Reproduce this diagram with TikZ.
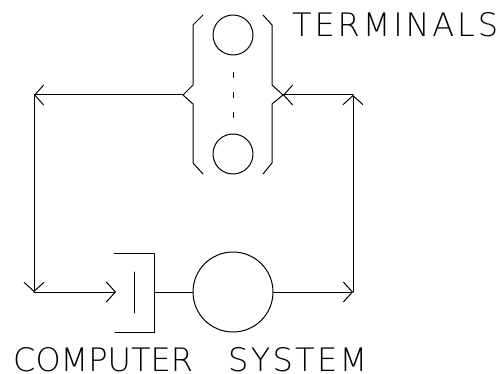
\documentclass[tikz,border=0pt]{standalone}
\usepackage{fontspec}
\newfontfamily\thinf{DejaVu Sans ExtraLight}
\usetikzlibrary{arrows.meta}
\newcommand{\spreadtxt}[2]{\makebox[#1][s]{#2}}
\begin{document}
\begin{tikzpicture}[x=1pt,y=-1pt,
  ln/.style={line width=1pt,line cap=round,line join=round},
  arr/.style={ln,-{Straight Barb[length=9pt,width=20pt,line width=1pt]}},
  circ/.style={circle,draw,line width=1pt,inner sep=0pt,minimum size=#1},
  lbl/.style={inner sep=0pt,anchor=north west,font=\thinf\fontsize{32}{32}\selectfont}]
\useasboundingbox[fill=white] (0,0) rectangle (503,374);
% terminals
\node[circ=40pt] (t1) at (233,35) {};
\node[circ=40pt] (t2) at (233,154) {};
\foreach \yy in {75,95,115} \draw[ln] (233,\yy-2.5) -- (233,\yy+2.5);
% braces
\coordinate (bl) at (183,95);
\coordinate (br) at (283,95);
\draw[ln] (203,15) -- (193,25) -- (193,85) -- (bl) -- (193,104) -- (193,163) -- (203,174);
\draw[ln] (263,15) -- (272,25) -- (272,85) -- (br) -- (272,104) -- (272,163) -- (263,174);
% computer system
\node[circ=80pt] (cpu) at (233,292) {};
\draw[ln] (114,253) -- (154,253) -- (154,332) -- (115,332);
\draw[ln] (134,272) -- (134,313);
\coordinate (bkt) at (154,292);
\coordinate (inp) at (116,292);
% corners
\coordinate (c1) at (34,95);
\coordinate (c2) at (34,292);
\coordinate (c3) at (353,292);
\coordinate (c4) at (353,95);
% connectors
\draw[arr] (bl) -- (c1);
\draw[arr] (c1) -- (c2);
\draw[arr] (c2) -- (inp);
\draw[ln] (bkt) -- (cpu.west);
\draw[arr] (cpu.east) -- (c3);
\draw[arr] (c3) -- (c4);
\draw[arr] (c4) -- (br);
% labels
\node[lbl] (lt) at (292,12) {\resizebox{206pt}{24pt}{\spreadtxt{206pt}{T\hfil E\hfil R\hfil M\hfil I\hfil N\hfil A\hfil L\hfil S}}};
\node[lbl] (lc) at (13,347) {\resizebox{354pt}{24pt}{\spreadtxt{174pt}{C\hfil O\hfil M\hfil P\hfil U\hfil T\hfil E\hfil R}\hspace{41pt}\spreadtxt{139pt}{S\hfil Y\hfil S\hfil T\hfil E\hfil M}}};
\end{tikzpicture}
\end{document}
